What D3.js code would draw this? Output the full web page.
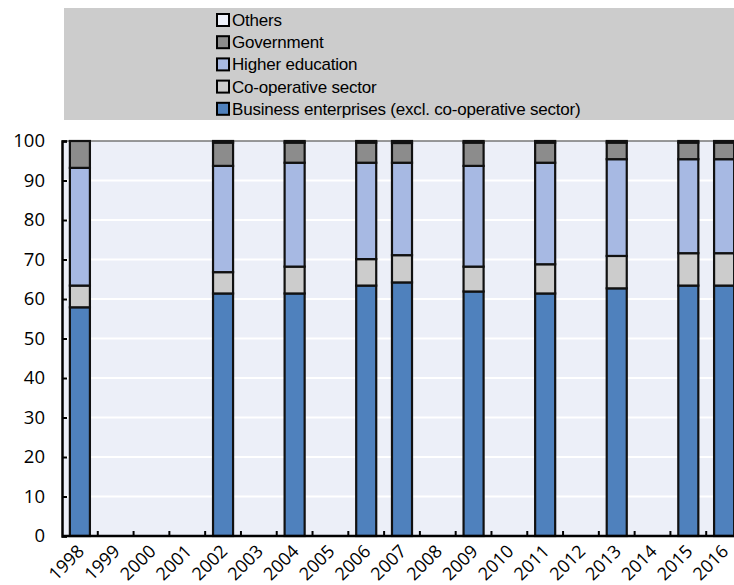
<!DOCTYPE html>
<html><head><meta charset="utf-8">
<script src="https://cdn.jsdelivr.net/npm/d3@7"></script>
<style>body{margin:0;background:#fff}svg{display:block}</style>
</head><body>
<svg id="c" width="734" height="585"></svg>
<script>
const years = ["1998","1999","2000","2001","2002","2003","2004","2005","2006","2007","2008","2009","2010","2011","2012","2013","2014","2015","2016"];
const business = [57.9,null,null,null,61.4,null,61.4,null,63.4,64.2,null,61.9,null,61.4,null,62.7,null,63.4,63.4];
const coop     = [5.5,null,null,null,5.4,null,6.8,null,6.7,6.9,null,6.3,null,7.4,null,8.2,null,8.2,8.2];
const higher   = [29.8,null,null,null,26.9,null,26.3,null,24.4,23.4,null,25.5,null,25.7,null,24.5,null,23.8,23.8];
const government=[6.8,null,null,null,5.9,null,5.1,null,5.1,5.0,null,5.9,null,5.1,null,4.2,null,4.2,4.2];
const others   = [0,null,null,null,0.4,null,0.4,null,0.4,0.5,null,0.4,null,0.4,null,0.4,null,0.4,0.4];
const seriesNames = ["Business enterprises (excl. co-operative sector)","Co-operative sector","Higher education","Government","Others"];
const yTicks = [0,10,20,30,40,50,60,70,80,90,100];

const colors = ["#4F81BD","#CCCCCC","#A7B9E3","#8C8C8C","#EEF1FA"];
const seriesData = [business, coop, higher, government, others];

const svg = d3.select("#c");
const L = 62, R = 742, T = 141, B = 536;
const x = d3.scaleBand().domain(years).range([L, R]).paddingInner(0.44).paddingOuter(0.22);
const y = d3.scaleLinear().domain([0,100]).range([B, T]);

// legend box
svg.append("rect").attr("x",64).attr("y",8).attr("width",670).attr("height",112).attr("fill","#CCCCCC");
const legendOrder = [4,3,2,1,0];
legendOrder.forEach((si,i)=>{
  const yy = 20 + i*22.2;
  svg.append("rect").attr("x",217).attr("y",yy-6).attr("width",12).attr("height",12)
    .attr("fill",colors[si]).attr("stroke","#000").attr("stroke-width",2);
  svg.append("text").attr("x",232).attr("y",yy+6).attr("font-family","Liberation Sans, Arial, sans-serif")
    .attr("font-size",17).attr("letter-spacing",-0.2).attr("fill","#000").text(seriesNames[si]);
});

// plot background
svg.append("rect").attr("x",L).attr("y",T).attr("width",R-L).attr("height",B-T).attr("fill","#ECEFF8");
// gridlines
svg.append("g").selectAll("line").data(yTicks.filter(d=>d>0&&d<100)).join("line")
  .attr("x1",L).attr("x2",R).attr("y1",d=>y(d)).attr("y2",d=>y(d)).attr("stroke","#fff").attr("stroke-width",2);
// top frame line
svg.append("line").attr("x1",L).attr("x2",R).attr("y1",y(100)).attr("y2",y(100)).attr("stroke","#777").attr("stroke-width",1.5);

// stacked bars
const rows = years.map((yr,i)=>{
  const o = {year:yr};
  seriesData.forEach((s,k)=>o["s"+k]=s[i]);
  return o;
}).filter(d=>d.s0!=null);
const stack = d3.stack().keys(["s0","s1","s2","s3","s4"]);
const stacked = stack(rows);
stacked.forEach((layer,k)=>{
  svg.append("g").selectAll("rect").data(layer.filter(d=>d[1]-d[0]>0)).join("rect")
    .attr("x",d=>x(d.data.year)).attr("width",x.bandwidth())
    .attr("y",d=>y(d[1])).attr("height",d=>y(d[0])-y(d[1]))
    .attr("fill",colors[k]).attr("stroke","#111").attr("stroke-width",2.2);
});

// axes
const yAxis = d3.axisLeft(y).tickValues(yTicks).tickSize(-5).tickPadding(17);
const ga = svg.append("g").attr("transform",`translate(${L},0)`).call(yAxis);
ga.select(".domain").attr("stroke","#000").attr("stroke-width",2.5);
ga.selectAll(".tick line").attr("stroke","#000").attr("stroke-width",2);
ga.selectAll("text").attr("font-family","Open Sans, sans-serif").attr("font-size",18.5).attr("fill","#000");

// x axis baseline and ticks at band boundaries
svg.append("line").attr("x1",L).attr("x2",R).attr("y1",B).attr("y2",B).attr("stroke","#000").attr("stroke-width",2.5);
const step = x.step();
svg.append("g").selectAll("line").data(years.slice(1)).join("line")
  .attr("x1",d=>x(d)+x.bandwidth()/2-step/2).attr("x2",d=>x(d)+x.bandwidth()/2-step/2)
  .attr("y1",B).attr("y2",B-5).attr("stroke","#000").attr("stroke-width",2);
svg.append("g").selectAll("text").data(years).join("text")
  .attr("transform",d=>`translate(${x(d)+x.bandwidth()/2+1},${B+12}) rotate(-45)`)
  .attr("text-anchor","end").attr("dy","0.35em")
  .attr("font-family","Open Sans, sans-serif").attr("font-size",18).attr("fill","#000").text(d=>d);
</script>
</body></html>
